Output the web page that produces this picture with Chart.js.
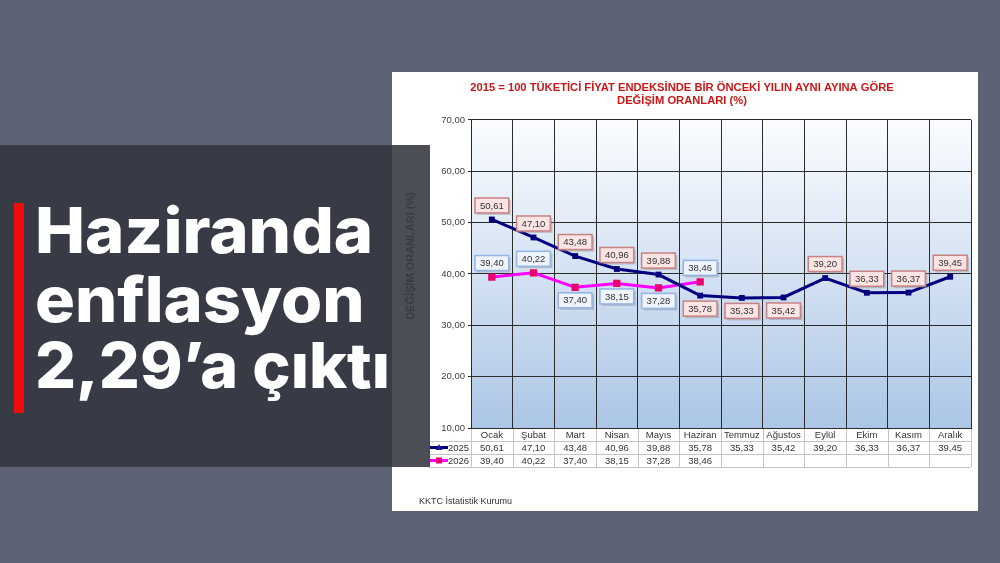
<!DOCTYPE html>
<html>
<head>
<meta charset="utf-8">
<script src="https://cdn.jsdelivr.net/npm/chart.js@4.4.1/dist/chart.umd.min.js"></script>
<style>
    html, body { margin: 0; padding: 0; }
    body {
        width: 1000px; height: 563px; overflow: hidden;
        background: #5d6275; position: relative;
        font-family: "Liberation Sans", Arial, sans-serif;
    }
    #sheet {
        position: absolute; left: 392px; top: 72px;
        width: 586px; height: 439px; background: #fff;
    }
    #panel {
        position: absolute; left: 0; top: 145px;
        width: 430px; height: 322px;
        background: rgba(51, 53, 63, 0.88);
    }
    #redBar {
        position: absolute; left: 14px; top: 203px;
        width: 10px; height: 210px; background: #f20d0d;
    }
    .headline {
        position: absolute; left: 35px;
        color: #fff; font-family: Inter, "Open Sans", sans-serif;
        font-weight: 800; white-space: nowrap;
        transform-origin: 0 0;
    }
</style>
</head>
<body>
<div id="sheet"><canvas id="cpiChart" width="586" height="439"></canvas></div>
<div id="panel"></div>
<div id="redBar"></div>
<div class="headline" id="line1">Haziranda</div>
<div class="headline" id="line2">enflasyon</div>
<div class="headline" id="line3">2,29’a çıktı</div>

<script>
const months = ['Ocak', 'Şubat', 'Mart', 'Nisan', 'Mayıs', 'Haziran',
    'Temmuz', 'Ağustos', 'Eylül', 'Ekim', 'Kasım', 'Aralık'];
const values2025 = [50.61, 47.10, 43.48, 40.96, 39.88, 35.78, 35.33, 35.42, 39.20, 36.33, 36.37, 39.45];
const values2026 = [39.40, 40.22, 37.40, 38.15, 37.28, 38.46, null, null, null, null, null, null];
const yTicks = [10, 20, 30, 40, 50, 60, 70];

// where each value box sits relative to its point
const place2025 = ['up', 'up', 'up', 'up', 'up', 'down', 'down', 'down', 'up', 'up', 'up', 'up'];
const place2026 = ['up', 'up', 'down', 'down', 'down', 'up'];

const fmt = v => v.toFixed(2).replace('.', ',');

// headline: wide heavy face, each line stretched to its width in the picture
function layoutHeadline() {
    const size = 63;
    const baselines = [253, 322, 388];
    const widths = [338, 330, 355];
    ['line1', 'line2', 'line3'].forEach((id, i) => {
        const el = document.getElementById(id);
        el.style.fontSize = size + 'px';
        el.style.lineHeight = size + 'px';
        el.style.top = (baselines[i] - 0.864 * size) + 'px';
        const k = widths[i] / el.offsetWidth;
        el.style.transform = 'scaleX(' + k + ')';
    });
}
layoutHeadline();

const plotBackground = {
    id: 'plotBackground',
    beforeDraw(chart) {
        const { ctx, chartArea: a } = chart;
        const g = ctx.createLinearGradient(0, a.top, 0, a.bottom);
        g.addColorStop(0, '#fbfdff');
        g.addColorStop(1, '#acc6e6');
        ctx.save();
        ctx.fillStyle = g;
        ctx.fillRect(a.left, a.top, a.right - a.left, a.bottom - a.top);
        ctx.restore();
    }
};

function drawBox(ctx, x, y, text, fill, stroke) {
    ctx.font = '9.5px "Liberation Sans", Arial';
    const w = ctx.measureText(text).width + 10;
    const h = 15;
    ctx.fillStyle = 'rgba(120,120,120,0.35)';
    ctx.fillRect(x - w / 2 + 2, y - h / 2 + 2, w, h);
    ctx.fillStyle = fill;
    ctx.fillRect(x - w / 2, y - h / 2, w, h);
    ctx.strokeStyle = stroke;
    ctx.lineWidth = 1.5;
    ctx.strokeRect(x - w / 2, y - h / 2, w, h);
    ctx.fillStyle = '#333';
    ctx.textAlign = 'center';
    ctx.textBaseline = 'middle';
    ctx.fillText(text, x, y + 0.5);
}

const valueBoxes = {
    id: 'valueBoxes',
    afterDatasetsDraw(chart) {
        const ctx = chart.ctx;
        ctx.save();
        const sets = [
            { data: values2025, place: place2025, fill: '#fbe4e4', stroke: '#c98282' },
            { data: values2026, place: place2026, fill: '#eef3fc', stroke: '#94b4e4' }
        ];
        sets.forEach((s, di) => {
            const meta = chart.getDatasetMeta(di);
            s.data.forEach((v, i) => {
                if (v === null) return;
                const p = meta.data[i];
                const dy = s.place[i] === 'up' ? -14 : 13;
                drawBox(ctx, p.x, p.y + dy, fmt(v), s.fill, s.stroke);
            });
        });
        ctx.restore();
    }
};

// data table under the plot, with the legend in its first column
const dataTable = {
    id: 'dataTable',
    afterDraw(chart) {
        const { ctx, chartArea: a } = chart;
        const x = chart.scales.x;
        const step = (a.right - a.left) / months.length;
        const rowH = 13;
        const top = a.bottom;
        const tableLeft = 37;
        ctx.save();
        ctx.strokeStyle = '#c4c4c4';
        ctx.lineWidth = 1;
        ctx.beginPath();
        for (let r = 1; r <= 3; r++) {
            const y = Math.round(top + r * rowH) + 0.5;
            ctx.moveTo(tableLeft, y);
            ctx.lineTo(a.right, y);
        }
        for (let i = 0; i <= months.length; i++) {
            const xx = Math.round(a.left + i * step) + 0.5;
            ctx.moveTo(xx, top + 1);
            ctx.lineTo(xx, top + 3 * rowH);
        }
        ctx.moveTo(tableLeft + 0.5, top + rowH);
        ctx.lineTo(tableLeft + 0.5, top + 3 * rowH);
        ctx.stroke();

        ctx.font = '9.5px "Liberation Sans", Arial';
        ctx.fillStyle = '#333';
        ctx.textAlign = 'center';
        ctx.textBaseline = 'middle';
        months.forEach((m, i) => {
            const cx = x.getPixelForValue(i);
            ctx.fillText(m, cx, top + rowH * 0.5 + 1);
            ctx.fillText(fmt(values2025[i]), cx, top + rowH * 1.5 + 1);
            if (values2026[i] !== null) ctx.fillText(fmt(values2026[i]), cx, top + rowH * 2.5 + 1);
        });

        // legend keys
        const keys = [
            { label: '2025', color: '#00007f', mark: 'triangle' },
            { label: '2026', color: '#ff00ff', mark: 'rect' }
        ];
        keys.forEach((k, r) => {
            const y = top + rowH * (r + 1.5);
            ctx.strokeStyle = k.color;
            ctx.lineWidth = 3;
            ctx.beginPath();
            ctx.moveTo(38, y);
            ctx.lineTo(56, y);
            ctx.stroke();
            ctx.fillStyle = r === 0 ? '#1a1aa0' : '#e8006e';
            if (k.mark === 'rect') ctx.fillRect(44, y - 3, 6, 6);
            else {
                ctx.beginPath();
                ctx.moveTo(47, y - 3.5);
                ctx.lineTo(50.5, y + 2.5);
                ctx.lineTo(43.5, y + 2.5);
                ctx.fill();
            }
            ctx.fillStyle = '#333';
            ctx.textAlign = 'left';
            ctx.fillText(k.label, 56, y + 1);
        });

        // rotated axis title, placed as in the source sheet
        ctx.save();
        ctx.translate(19, 184);
        ctx.rotate(-Math.PI / 2);
        ctx.font = 'bold 11px "Liberation Sans", Arial';
        ctx.fillStyle = '#606060';
        ctx.textAlign = 'center';
        ctx.fillText('DEĞİŞİM ORANLARI (%)', 0, 0);
        ctx.restore();

        ctx.textAlign = 'left';
        ctx.font = '9px "Liberation Sans", Arial';
        ctx.fillStyle = '#333';
        ctx.fillText('KKTC İstatistik Kurumu', 27, 430);
        ctx.restore();
    }
};

const ctx = document.getElementById('cpiChart').getContext('2d');
const cpiChart = new Chart(ctx, {
    type: 'line',
    data: {
        labels: months,
        datasets: [{
            label: '2025',
            data: values2025,
            borderColor: '#00007f',
            backgroundColor: '#1a1aa0',
            borderWidth: 3,
            pointStyle: 'rect',
            pointRadius: 2,
            tension: 0
        }, {
            label: '2026',
            data: values2026,
            borderColor: '#ff00ff',
            backgroundColor: '#e8006e',
            pointBackgroundColor: '#e8006e',
            pointBorderColor: '#e8006e',
            borderWidth: 3,
            pointStyle: 'rect',
            pointRadius: 3,
            tension: 0
        }]
    },
    options: {
        responsive: false,
        animation: false,
        devicePixelRatio: 1,
        layout: { padding: { top: 0, right: 6, bottom: 83, left: 0 } },
        plugins: {
            legend: { display: false },
            tooltip: { enabled: false },
            title: {
                display: true,
                text: ['2015 = 100 TÜKETİCİ FİYAT ENDEKSİNDE BİR ÖNCEKİ YILIN AYNI AYINA GÖRE',
                    'DEĞİŞİM ORANLARI (%)'],
                color: '#cc1717',
                font: { family: '"Liberation Sans", Arial', size: 11.2, weight: 'bold' },
                padding: { top: 9, bottom: 12 }
            }
        },
        scales: {
            x: {
                offset: true,
                ticks: { display: false },
                grid: { offset: true, color: '#2b2b2b', lineWidth: 1, drawTicks: false },
                border: { color: '#2b2b2b' }
            },
            y: {
                min: 10,
                max: 70,
                afterBuildTicks: s => { s.ticks = yTicks.map(v => ({ value: v })); },
                afterFit: s => { s.width = 79; },
                ticks: {
                    callback: v => fmt(v),
                    color: '#404040',
                    font: { family: '"Liberation Sans", Arial', size: 9.5 },
                    padding: 3
                },
                grid: { color: '#2b2b2b', lineWidth: 1, tickLength: 3 },
                border: { color: '#2b2b2b' }
            }
        }
    },
    plugins: [plotBackground, valueBoxes, dataTable]
});
</script>
</body>
</html>
